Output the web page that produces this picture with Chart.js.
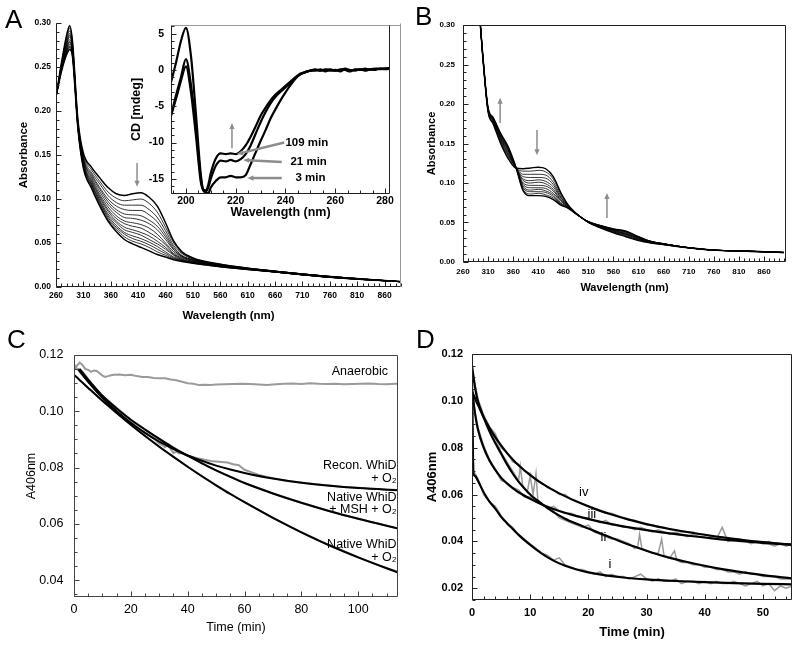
<!DOCTYPE html>
<html>
<head>
<meta charset="utf-8">
<script src="https://cdn.jsdelivr.net/npm/chart.js@4.4.0/dist/chart.umd.min.js"></script>
<style>
  body { margin: 0; background: #fff; }
  #fig { position: relative; width: 800px; height: 646px; overflow: hidden; }
  #fig canvas { position: absolute; left: 0; top: 0; }
  .letter { position: absolute; font: 26px "Liberation Sans", Arial, sans-serif; line-height: 1; color: #000; z-index: 5; }
</style>
</head>
<body>
<div id="fig">
  <canvas id="chartA" width="800" height="646"></canvas>
  <canvas id="chartInset" width="800" height="646"></canvas>
  <canvas id="chartB" width="800" height="646"></canvas>
  <canvas id="chartC" width="800" height="646"></canvas>
  <canvas id="chartD" width="800" height="646"></canvas>
  <div class="letter" style="left:5px;top:6px">A</div>
  <div class="letter" style="left:415px;top:3px">B</div>
  <div class="letter" style="left:7px;top:326px">C</div>
  <div class="letter" style="left:416px;top:326px">D</div>
</div>
<script>
// --- DATA: panel A, UV-vis spectra (first = start, last = end) ---
const wlA = [260, 270, 280, 285, 290, 300, 310, 325, 340, 355, 370, 385, 400, 415, 430, 445, 460, 475, 490, 510, 560, 660, 760, 890];
const spectraA = [
  [0.216, 0.255, 0.288, 0.297, 0.280, 0.190, 0.152, 0.136, 0.124, 0.113, 0.106, 0.104, 0.106, 0.107, 0.102, 0.092, 0.073, 0.052, 0.040, 0.033, 0.026, 0.018, 0.012, 0.006],
  [0.216, 0.254, 0.285, 0.294, 0.278, 0.189, 0.150, 0.133, 0.120, 0.108, 0.101, 0.098, 0.099, 0.100, 0.095, 0.085, 0.068, 0.050, 0.039, 0.032, 0.026, 0.018, 0.012, 0.006],
  [0.216, 0.253, 0.283, 0.291, 0.276, 0.188, 0.148, 0.130, 0.117, 0.104, 0.096, 0.093, 0.093, 0.093, 0.088, 0.079, 0.064, 0.047, 0.038, 0.032, 0.025, 0.018, 0.012, 0.006],
  [0.216, 0.252, 0.280, 0.288, 0.274, 0.187, 0.146, 0.128, 0.113, 0.100, 0.092, 0.088, 0.087, 0.087, 0.082, 0.074, 0.060, 0.045, 0.036, 0.031, 0.025, 0.018, 0.012, 0.006],
  [0.216, 0.251, 0.278, 0.286, 0.272, 0.186, 0.145, 0.126, 0.111, 0.097, 0.088, 0.083, 0.082, 0.081, 0.076, 0.069, 0.057, 0.043, 0.035, 0.031, 0.025, 0.018, 0.012, 0.006],
  [0.216, 0.250, 0.277, 0.284, 0.271, 0.185, 0.144, 0.124, 0.108, 0.094, 0.085, 0.079, 0.078, 0.076, 0.072, 0.065, 0.054, 0.042, 0.035, 0.030, 0.025, 0.018, 0.012, 0.006],
  [0.216, 0.249, 0.275, 0.281, 0.270, 0.184, 0.142, 0.122, 0.105, 0.091, 0.081, 0.075, 0.073, 0.071, 0.067, 0.060, 0.050, 0.040, 0.034, 0.030, 0.024, 0.017, 0.011, 0.006],
  [0.216, 0.249, 0.273, 0.279, 0.268, 0.184, 0.141, 0.120, 0.103, 0.088, 0.078, 0.072, 0.069, 0.067, 0.062, 0.056, 0.048, 0.038, 0.033, 0.029, 0.024, 0.017, 0.011, 0.006],
  [0.216, 0.248, 0.271, 0.278, 0.267, 0.183, 0.140, 0.119, 0.101, 0.086, 0.075, 0.068, 0.065, 0.062, 0.058, 0.052, 0.045, 0.037, 0.032, 0.029, 0.024, 0.017, 0.011, 0.006],
  [0.216, 0.247, 0.270, 0.276, 0.266, 0.182, 0.139, 0.117, 0.099, 0.083, 0.073, 0.065, 0.062, 0.059, 0.054, 0.049, 0.043, 0.036, 0.031, 0.028, 0.024, 0.017, 0.011, 0.006],
  [0.216, 0.247, 0.269, 0.274, 0.265, 0.182, 0.138, 0.116, 0.097, 0.081, 0.070, 0.062, 0.058, 0.055, 0.051, 0.046, 0.040, 0.034, 0.031, 0.028, 0.024, 0.017, 0.011, 0.006],
  [0.216, 0.246, 0.268, 0.273, 0.264, 0.181, 0.137, 0.115, 0.096, 0.079, 0.068, 0.060, 0.055, 0.052, 0.048, 0.043, 0.038, 0.033, 0.030, 0.028, 0.023, 0.017, 0.011, 0.006],
  [0.216, 0.246, 0.266, 0.272, 0.263, 0.181, 0.136, 0.113, 0.094, 0.077, 0.066, 0.057, 0.052, 0.049, 0.045, 0.040, 0.036, 0.032, 0.030, 0.027, 0.023, 0.017, 0.011, 0.006],
  [0.216, 0.245, 0.265, 0.270, 0.262, 0.180, 0.135, 0.112, 0.092, 0.075, 0.063, 0.054, 0.049, 0.045, 0.041, 0.037, 0.034, 0.031, 0.029, 0.027, 0.023, 0.017, 0.011, 0.006]
];
const wlTicks = [260, 310, 360, 410, 460, 510, 560, 610, 660, 710, 760, 810, 860];
const absTicks = [0, 0.05, 0.10, 0.15, 0.20, 0.25, 0.30];

// --- DATA: panel A inset, CD spectra ---
const wlCD = [194, 196, 198, 200, 202, 204, 206, 207, 208, 209, 210, 212, 214, 216, 218, 220, 222, 224, 226, 228, 230, 232, 234, 236, 238, 240, 242, 244, 246, 248, 250, 252, 254, 256, 258, 260, 262, 264, 266, 268, 270, 272, 274, 276, 278, 280, 282];
const cd109 = [-1.7, 1.0, 4.0, 5.8, 2.0, -6.0, -14.5, -16.5, -16.6, -15.8, -14.2, -12.2, -11.5, -11.6, -11.5, -11.6, -11.2, -10.4, -9.2, -7.8, -6.3, -5.2, -4.2, -3.4, -2.8, -2.2, -1.6, -1.0, -0.5, -0.3, -0.1, -0.1, 0.1, -0.2, 0.0, -0.1, 0.1, 0.0, -0.2, 0.1, 0.0, 0.2, 0.0, 0.1, 0.2, 0.2, 0.3];
const cd21 = [-6.3, -3.5, -1.0, 1.5, -2.0, -8.0, -15.0, -16.6, -16.8, -16.2, -15.0, -13.2, -12.5, -12.6, -12.4, -12.6, -12.3, -11.6, -10.4, -8.8, -7.2, -5.8, -4.6, -3.7, -3.0, -2.4, -1.8, -1.1, -0.6, -0.3, -0.1, 0.0, -0.1, 0.1, -0.1, 0.0, -0.2, 0.1, 0.0, -0.1, 0.1, 0.0, 0.1, 0.0, 0.2, 0.1, 0.2];
const cd3 = [-6.3, -4.0, -1.5, 0.5, -3.0, -9.0, -15.5, -16.6, -16.9, -17.0, -16.2, -15.3, -14.8, -14.8, -14.6, -14.8, -14.8, -14.5, -13.0, -11.4, -9.8, -8.3, -6.7, -5.4, -4.2, -3.1, -2.1, -1.2, -0.6, -0.3, -0.1, 0.1, -0.1, 0.0, 0.1, -0.1, 0.0, 0.2, -0.1, 0.0, 0.1, -0.1, 0.1, 0.2, 0.1, 0.2, 0.2];
const cdXTicks = [200, 220, 240, 260, 280];
const cdYTicks = [-15, -10, -5, 0, 5];

// --- DATA: panel B spectra ---
const wlB = [294, 300, 310, 320, 335, 350, 365, 380, 395, 410, 425, 440, 455, 470, 485, 510, 535, 560, 585, 610, 635, 660, 710, 760, 810, 860, 900];
const spectraB = [
  [0.305, 0.255, 0.190, 0.175, 0.150, 0.131, 0.119, 0.118, 0.119, 0.120, 0.118, 0.108, 0.088, 0.072, 0.062, 0.050, 0.043, 0.037, 0.032, 0.027, 0.024, 0.022, 0.018, 0.015, 0.014, 0.013, 0.012],
  [0.305, 0.255, 0.191, 0.176, 0.152, 0.133, 0.119, 0.115, 0.115, 0.116, 0.114, 0.105, 0.086, 0.072, 0.062, 0.050, 0.043, 0.038, 0.033, 0.028, 0.024, 0.022, 0.018, 0.015, 0.014, 0.013, 0.012],
  [0.305, 0.256, 0.191, 0.177, 0.153, 0.135, 0.120, 0.111, 0.111, 0.111, 0.110, 0.101, 0.084, 0.071, 0.062, 0.050, 0.044, 0.038, 0.034, 0.028, 0.025, 0.022, 0.018, 0.015, 0.014, 0.013, 0.012],
  [0.305, 0.256, 0.192, 0.178, 0.155, 0.136, 0.120, 0.108, 0.107, 0.107, 0.106, 0.098, 0.082, 0.071, 0.062, 0.050, 0.044, 0.039, 0.035, 0.029, 0.025, 0.022, 0.018, 0.015, 0.014, 0.013, 0.012],
  [0.305, 0.256, 0.192, 0.179, 0.156, 0.138, 0.120, 0.105, 0.103, 0.104, 0.102, 0.095, 0.081, 0.070, 0.062, 0.051, 0.044, 0.039, 0.035, 0.029, 0.025, 0.023, 0.018, 0.015, 0.014, 0.013, 0.012],
  [0.305, 0.257, 0.193, 0.179, 0.157, 0.139, 0.120, 0.103, 0.100, 0.101, 0.099, 0.092, 0.079, 0.070, 0.061, 0.051, 0.045, 0.040, 0.036, 0.030, 0.025, 0.023, 0.018, 0.015, 0.014, 0.013, 0.012],
  [0.305, 0.257, 0.193, 0.180, 0.158, 0.141, 0.120, 0.100, 0.097, 0.097, 0.096, 0.090, 0.078, 0.070, 0.061, 0.051, 0.045, 0.040, 0.036, 0.030, 0.025, 0.023, 0.018, 0.015, 0.014, 0.013, 0.012],
  [0.305, 0.257, 0.194, 0.181, 0.159, 0.142, 0.120, 0.098, 0.094, 0.094, 0.093, 0.087, 0.077, 0.069, 0.061, 0.051, 0.045, 0.041, 0.037, 0.031, 0.025, 0.023, 0.018, 0.015, 0.014, 0.013, 0.012],
  [0.305, 0.257, 0.194, 0.181, 0.160, 0.143, 0.121, 0.096, 0.091, 0.092, 0.090, 0.085, 0.075, 0.069, 0.061, 0.051, 0.045, 0.041, 0.038, 0.031, 0.026, 0.023, 0.018, 0.015, 0.014, 0.013, 0.012],
  [0.305, 0.258, 0.194, 0.182, 0.161, 0.144, 0.121, 0.094, 0.089, 0.089, 0.088, 0.083, 0.074, 0.069, 0.061, 0.051, 0.046, 0.041, 0.038, 0.031, 0.026, 0.023, 0.018, 0.015, 0.014, 0.013, 0.012],
  [0.305, 0.258, 0.195, 0.182, 0.162, 0.145, 0.121, 0.092, 0.086, 0.087, 0.085, 0.081, 0.073, 0.068, 0.061, 0.051, 0.046, 0.042, 0.039, 0.032, 0.026, 0.023, 0.018, 0.015, 0.014, 0.013, 0.012],
  [0.305, 0.258, 0.195, 0.183, 0.163, 0.146, 0.121, 0.090, 0.084, 0.084, 0.083, 0.079, 0.072, 0.068, 0.061, 0.051, 0.046, 0.042, 0.039, 0.032, 0.026, 0.023, 0.018, 0.015, 0.014, 0.013, 0.012]
];

// --- DATA: panel C, A406 vs time ---
const tAnaer = [0, 1, 2, 3, 4, 5, 6, 7, 8, 9, 10, 11, 12, 13, 14, 16, 18, 20, 22, 24, 26, 28, 30, 32, 34, 36, 38, 40, 42, 44, 46, 48, 50, 53, 56, 59, 62, 65, 68, 71, 74, 77, 80, 83, 86, 89, 92, 95, 98, 101, 104, 107, 110, 113, 115];
const anaer = [0.1153, 0.1162, 0.1173, 0.1165, 0.1150, 0.1147, 0.1140, 0.1145, 0.1143, 0.1135, 0.1127, 0.1122, 0.1125, 0.1128, 0.1130, 0.1131, 0.1128, 0.1130, 0.1125, 0.1122, 0.1122, 0.1118, 0.1117, 0.1117, 0.1113, 0.1110, 0.1105, 0.1100, 0.1098, 0.1093, 0.1094, 0.1093, 0.1095, 0.1096, 0.1097, 0.1098, 0.1097, 0.1095, 0.1093, 0.1096, 0.1098, 0.1099, 0.1097, 0.1100, 0.1098, 0.1097, 0.1098, 0.1096, 0.1097, 0.1098, 0.1099, 0.1097, 0.1096, 0.1098, 0.1097];
const tReconRaw = [0, 0.5, 1, 1.5, 2, 3, 5, 8, 11, 14, 17, 20, 23, 26, 28, 30, 31, 32, 33, 34, 35, 36, 37, 38, 40, 43, 46, 49, 52, 54, 56, 58, 60, 65, 70, 75, 80, 85, 90, 95, 100, 105, 110, 115];
const reconRaw = [0.1145, 0.1160, 0.1152, 0.1149, 0.1140, 0.1130, 0.1105, 0.1071, 0.1038, 0.1010, 0.0983, 0.0960, 0.0937, 0.0917, 0.0904, 0.0885, 0.0880, 0.0872, 0.0880, 0.0866, 0.0852, 0.0856, 0.0850, 0.0852, 0.0843, 0.0834, 0.0828, 0.0822, 0.0820, 0.0818, 0.0812, 0.0808, 0.0792, 0.0774, 0.0762, 0.0752, 0.0747, 0.0741, 0.0736, 0.0731, 0.0728, 0.0725, 0.0722, 0.0720];
const tMshRaw = [1, 2, 3, 4, 6, 10, 20, 30, 40, 50, 60, 70, 80, 90, 100, 110, 115];
const mshRaw = [0.1148, 0.1150, 0.1140, 0.1128, 0.1100, 0.1055, 0.0970, 0.0902, 0.0842, 0.0790, 0.0745, 0.0708, 0.0675, 0.0645, 0.0618, 0.0593, 0.0581];
const tNativeRaw = [0, 1, 2, 3, 5, 10, 20, 30, 40, 50, 60, 70, 80, 90, 100, 110, 115];
const nativeRaw = [0.1125, 0.1122, 0.1110, 0.1102, 0.1083, 0.1037, 0.0952, 0.0874, 0.0803, 0.0737, 0.0677, 0.0621, 0.0570, 0.0523, 0.0481, 0.0442, 0.0428];
const tRecon = [1.5, 5, 10, 15, 20, 25, 30, 35, 40, 45, 50, 55, 60, 70, 80, 90, 100, 115];
const reconFit = [0.1149, 0.1105, 0.1048, 0.1000, 0.0959, 0.0923, 0.0892, 0.0866, 0.0843, 0.0824, 0.0807, 0.0793, 0.0781, 0.0761, 0.0746, 0.0735, 0.0727, 0.0719];
const tMsh = [2, 5, 10, 15, 20, 25, 30, 35, 40, 45, 50, 55, 60, 70, 80, 90, 100, 115];
const mshFit = [0.1150, 0.1112, 0.1055, 0.1010, 0.0970, 0.0935, 0.0902, 0.0870, 0.0842, 0.0815, 0.0790, 0.0767, 0.0745, 0.0708, 0.0675, 0.0645, 0.0618, 0.0581];
const tNative = [0, 5, 10, 15, 20, 25, 30, 35, 40, 45, 50, 55, 60, 70, 80, 90, 100, 115];
const nativeFit = [0.1130, 0.1083, 0.1037, 0.0994, 0.0952, 0.0912, 0.0874, 0.0838, 0.0803, 0.0769, 0.0737, 0.0706, 0.0677, 0.0621, 0.0570, 0.0523, 0.0481, 0.0423];
const timeTicksC = [0, 20, 40, 60, 80, 100];
const absTicksC = [0.04, 0.06, 0.08, 0.10, 0.12];

// --- DATA: panel D, traces i-iv with fits ---
const tRaw = [0, 0.25, 0.5, 1, 2, 3, 4, 5, 6, 7, 8, 9, 10, 11, 12, 13, 14, 15, 16, 17, 18, 19, 20, 21, 22, 23, 24, 25, 26, 27, 28, 29, 30, 31, 32, 33, 34, 35, 36, 37, 38, 39, 40, 41, 42, 43, 44, 45, 46, 47, 48, 49, 50, 51, 52, 53, 54, 55];
const rawI = [0.110, 0.070, 0.069, 0.067, 0.060, 0.057, 0.055, 0.051, 0.048, 0.046, 0.043, 0.041, 0.039, 0.037, 0.035, 0.034, 0.032, 0.033, 0.030, 0.029, 0.028, 0.028, 0.027, 0.026, 0.027, 0.025, 0.026, 0.025, 0.025, 0.024, 0.025, 0.026, 0.024, 0.023, 0.024, 0.023, 0.023, 0.024, 0.022, 0.023, 0.023, 0.022, 0.023, 0.022, 0.023, 0.022, 0.022, 0.023, 0.022, 0.021, 0.022, 0.023, 0.021, 0.022, 0.019, 0.021, 0.020, 0.021];
const rawIII = [0.104, 0.099, 0.095, 0.089, 0.081, 0.075, 0.071, 0.066, 0.065, 0.063, 0.062, 0.059, 0.059, 0.057, 0.056, 0.054, 0.055, 0.053, 0.052, 0.052, 0.051, 0.050, 0.050, 0.049, 0.048, 0.049, 0.047, 0.047, 0.046, 0.046, 0.045, 0.046, 0.045, 0.044, 0.045, 0.044, 0.043, 0.044, 0.043, 0.042, 0.043, 0.042, 0.042, 0.041, 0.041, 0.046, 0.040, 0.041, 0.040, 0.040, 0.039, 0.040, 0.039, 0.039, 0.038, 0.039, 0.038, 0.039];
const rawIV = [0.103, 0.101, 0.100, 0.098, 0.094, 0.089, 0.086, 0.080, 0.078, 0.074, 0.073, 0.070, 0.069, 0.066, 0.065, 0.063, 0.062, 0.060, 0.060, 0.058, 0.057, 0.056, 0.055, 0.054, 0.053, 0.052, 0.052, 0.051, 0.050, 0.049, 0.049, 0.048, 0.047, 0.047, 0.046, 0.046, 0.045, 0.045, 0.044, 0.044, 0.044, 0.043, 0.043, 0.042, 0.042, 0.042, 0.041, 0.041, 0.041, 0.040, 0.040, 0.040, 0.039, 0.040, 0.039, 0.039, 0.039, 0.038];
const tRawII = [0, 1, 2, 3, 4, 5, 6, 7, 8, 8.3, 8.7, 9, 9.5, 10, 10.5, 11, 11.3, 12, 13, 14, 15, 16, 17, 18, 19, 20, 21, 22, 23, 24, 25, 26, 27, 28, 28.5, 28.8, 29.2, 30, 31, 32, 32.6, 33, 34, 34.8, 35.2, 36, 37, 38, 39, 40, 41, 42, 43, 44, 45, 46, 47, 48, 49, 50, 51, 52, 53, 54, 55];
const rawII = [0.114, 0.101, 0.094, 0.088, 0.084, 0.078, 0.074, 0.070, 0.066, 0.072, 0.064, 0.063, 0.061, 0.068, 0.060, 0.069, 0.058, 0.056, 0.054, 0.053, 0.050, 0.049, 0.048, 0.047, 0.046, 0.047, 0.044, 0.043, 0.042, 0.041, 0.041, 0.040, 0.039, 0.037, 0.038, 0.043, 0.037, 0.036, 0.035, 0.035, 0.041, 0.034, 0.033, 0.036, 0.032, 0.031, 0.031, 0.030, 0.030, 0.029, 0.029, 0.028, 0.028, 0.027, 0.027, 0.026, 0.027, 0.026, 0.026, 0.025, 0.025, 0.025, 0.024, 0.024, 0.024];
const tFitI = [0, 0.25, 0.5, 1, 2, 3, 4, 5, 6, 7, 8, 10, 12, 14, 16, 18, 20, 23, 26, 30, 35, 40, 45, 50, 55];
const fitI = [0.107, 0.069, 0.068, 0.066, 0.061, 0.057, 0.054, 0.0505, 0.0478, 0.0453, 0.0428, 0.0385, 0.0348, 0.0318, 0.0296, 0.0280, 0.0268, 0.0255, 0.0246, 0.0238, 0.0231, 0.0226, 0.0222, 0.0219, 0.0217];
const tFitII = [0, 0.5, 1, 2, 3, 4, 5, 6, 7, 8, 10, 12, 14, 16, 18, 20, 22, 25, 28, 31, 34, 37, 40, 43, 46, 50, 55];
const fitII = [0.115, 0.106, 0.100, 0.093, 0.087, 0.082, 0.0775, 0.073, 0.069, 0.0655, 0.060, 0.0560, 0.0525, 0.0497, 0.0475, 0.0455, 0.0435, 0.0405, 0.0377, 0.0352, 0.0330, 0.0312, 0.0296, 0.0282, 0.0270, 0.0256, 0.0242];
const tFitIII = [0, 0.5, 1, 2, 3, 4, 5, 6, 7, 8, 10, 12, 15, 18, 21, 24, 27, 30, 34, 38, 42, 46, 50, 55];
const fitIII = [0.105, 0.095, 0.088, 0.080, 0.0745, 0.0705, 0.0672, 0.0648, 0.0628, 0.0610, 0.0582, 0.0558, 0.0530, 0.0508, 0.0490, 0.0474, 0.0460, 0.0448, 0.0434, 0.0422, 0.0411, 0.0402, 0.0394, 0.0386];
const tFitIV = [0, 1, 2, 3, 4, 5, 6, 7, 8, 10, 12, 15, 18, 21, 24, 27, 30, 34, 38, 42, 46, 50, 55];
const fitIV = [0.104, 0.0985, 0.093, 0.0885, 0.0845, 0.081, 0.0778, 0.075, 0.0725, 0.0683, 0.0648, 0.0605, 0.0570, 0.0540, 0.0515, 0.0493, 0.0474, 0.0453, 0.0436, 0.0421, 0.0408, 0.0397, 0.0386];
const timeTicksD = [0, 10, 20, 30, 40, 50];
const absTicksD = [0.02, 0.04, 0.06, 0.08, 0.10, 0.12];

// --- annotations (data coordinates) ---
const notesA = { arrows: [{ from: [408, 0.141], to: [408, 0.114] }] };
const notesInset = {
  arrows: [
    { from: [239.5, -10.0], to: [220.5, -11.6], width: 2.5 },
    { from: [238.5, -12.7], to: [223, -12.4], width: 2.5 },
    { from: [238.5, -14.9], to: [224.7, -14.9], width: 2.5 },
    { from: [218.5, -10.8], to: [218.5, -7.3] }
  ],
  texts: [
    { text: '109 min', x: 240, y: -10.0, align: 'left', font: 'bold 11.5px "Liberation Sans", Arial, sans-serif' },
    { text: '21 min', x: 242, y: -12.7, align: 'left', font: 'bold 11.5px "Liberation Sans", Arial, sans-serif' },
    { text: '3 min', x: 244, y: -14.9, align: 'left', font: 'bold 11.5px "Liberation Sans", Arial, sans-serif' }
  ]
};
const notesB = {
  arrows: [
    { from: [334, 0.176], to: [334, 0.208] },
    { from: [407.5, 0.167], to: [407.5, 0.135] },
    { from: [547, 0.0557], to: [547, 0.0873] }
  ]
};
const labelFontC = '12.5px "Liberation Sans", Arial, sans-serif';
const notesC = {
  texts: [
    { text: 'Anaerobic', x: 110.5, y: 0.1140, align: 'right', font: labelFontC },
    { text: 'Recon. WhiD', x: 113.5, y: 0.0806, align: 'right', font: labelFontC },
    { text: '+ O₂', x: 113.5, y: 0.0760, align: 'right', font: labelFontC },
    { text: 'Native WhiD', x: 113.5, y: 0.0692, align: 'right', font: labelFontC },
    { text: '+ MSH + O₂', x: 113.5, y: 0.0650, align: 'right', font: labelFontC },
    { text: 'Native WhiD', x: 113.5, y: 0.0525, align: 'right', font: labelFontC },
    { text: '+ O₂', x: 113.5, y: 0.0480, align: 'right', font: labelFontC }
  ]
};
const labelFontD = '13px "Liberation Sans", Arial, sans-serif';
const notesD = {
  texts: [
    { text: 'iv', x: 19.2, y: 0.0608, font: labelFontD },
    { text: 'iii', x: 20.6, y: 0.0515, font: labelFontD },
    { text: 'ii', x: 22.6, y: 0.0416, font: labelFontD },
    { text: 'i', x: 23.7, y: 0.0302, font: labelFontD }
  ]
};

const FAMILY = '"Liberation Sans", Arial, sans-serif';
const GRAY = '#9a9a9a';

// frame sides and inward tick marks (major at axis ticks, minor by step)
const frameTicks = {
  id: 'frameTicks',
  afterDatasetsDraw(chart, args, o) {
    const { ctx, chartArea: a } = chart;
    const sx = chart.scales.x, sy = chart.scales.y;
    const L = Math.round(a.left) + 0.5, R = Math.round(a.right) - 0.5;
    const T = Math.round(a.top) + 0.5, B = Math.round(a.bottom) - 0.5;
    ctx.save();
    ctx.lineWidth = 1;
    const side = (c, x1, y1, x2, y2) => {
      if (!c) return;
      ctx.strokeStyle = c;
      ctx.beginPath(); ctx.moveTo(x1, y1); ctx.lineTo(x2, y2); ctx.stroke();
    };
    side(o.top, L, T, R + (o.topExtra || 0), T);
    side(o.right, R, T, R, B);
    side(o.left, L, T, L, B);
    side(o.bottom, L, B, R, B);

    ctx.strokeStyle = o.left || '#000';
    const mark = (scale, v, len) => {
      const p = Math.round(scale.getPixelForValue(v)) + 0.5;
      ctx.beginPath();
      if (scale.isHorizontal()) { ctx.moveTo(p, B); ctx.lineTo(p, B - len); }
      else { ctx.moveTo(L, p); ctx.lineTo(L + len, p); }
      ctx.stroke();
    };
    [[sx, o.xMinor], [sy, o.yMinor]].forEach(([s, step]) => {
      const n0 = Math.ceil(s.min / step - 1e-6), n1 = Math.floor(s.max / step + 1e-6);
      for (let n = n0; n <= n1; n++) mark(s, n * step, 3);
      s.ticks.forEach(t => mark(s, t.value, 5));
    });
    ctx.restore();
  }
};

// gray arrows and free text labels
const notes = {
  id: 'notes',
  afterDatasetsDraw(chart, args, o) {
    const { ctx } = chart, sx = chart.scales.x, sy = chart.scales.y;
    ctx.save();
    (o.arrows || []).forEach(ar => {
      const x1 = sx.getPixelForValue(ar.from[0]), y1 = sy.getPixelForValue(ar.from[1]);
      const x2 = sx.getPixelForValue(ar.to[0]), y2 = sy.getPixelForValue(ar.to[1]);
      const ang = Math.atan2(y2 - y1, x2 - x1), h = 6, hw = 2.6;
      const c = Math.cos(ang), s = Math.sin(ang);
      ctx.strokeStyle = ctx.fillStyle = '#8c8c8c';
      ctx.lineWidth = ar.width || 1.5;
      ctx.beginPath(); ctx.moveTo(x1, y1); ctx.lineTo(x2 - c * h * 0.7, y2 - s * h * 0.7); ctx.stroke();
      ctx.beginPath();
      ctx.moveTo(x2, y2);
      ctx.lineTo(x2 - c * h - s * hw, y2 - s * h + c * hw);
      ctx.lineTo(x2 - c * h + s * hw, y2 - s * h - c * hw);
      ctx.closePath(); ctx.fill();
    });
    (o.texts || []).forEach(t => {
      ctx.font = t.font;
      ctx.fillStyle = '#000';
      ctx.textAlign = t.align || 'center';
      ctx.textBaseline = 'middle';
      ctx.fillText(t.text, sx.getPixelForValue(t.x), sy.getPixelForValue(t.y));
    });
    ctx.restore();
  }
};

function line(xs, ys, color, width, smooth) {
  return {
    data: xs.map((x, i) => ({ x: x, y: ys[i] })),
    borderColor: color,
    borderWidth: width,
    pointRadius: 0,
    fill: false,
    tension: 0,
    cubicInterpolationMode: smooth ? 'monotone' : 'default'
  };
}

function panel(id, p) {
  const axis = (a, isX) => ({
    type: 'linear',
    min: a.min,
    max: a.max,
    grid: { display: false, drawTicks: false },
    border: { display: false },
    afterBuildTicks: s => { s.ticks = a.ticks.map(v => ({ value: v })); },
    afterFit: s => { if (isX) s.height = a.size; else s.width = a.size; },
    ticks: {
      color: '#000', font: p.tickFont, padding: a.tpad,
      maxRotation: 0, autoSkip: false,
      callback: a.fmt || (v => v)
    },
    title: {
      display: true, text: a.title, color: '#000', font: p.titleFont,
      padding: isX ? { top: 0, bottom: a.titlePad } : { top: a.titlePad, bottom: 0 }
    }
  });
  return new Chart(document.getElementById(id), {
    type: 'line',
    data: { datasets: p.datasets },
    options: {
      responsive: false,
      animation: false,
      devicePixelRatio: 1,
      events: [],
      layout: { padding: p.pad },
      plugins: {
        legend: { display: false },
        tooltip: { enabled: false },
        frameTicks: p.frame,
        notes: p.notes || {}
      },
      scales: { x: axis(p.x, true), y: axis(p.y, false) }
    },
    plugins: [frameTicks, notes]
  });
}

const fix2 = v => v.toFixed(2);

// Panel A
panel('chartA', {
  datasets: spectraA.map((s, i) => line(wlA, s, '#000', (i === 0 || i === spectraA.length - 1) ? 1.5 : 0.8, true)),
  pad: { left: 0, top: 23, right: 399, bottom: 319 },
  tickFont: { family: FAMILY, size: 8.5, weight: 'bold' },
  titleFont: { family: FAMILY, size: 11.5, weight: 'bold' },
  x: { min: 260, max: 890, ticks: wlTicks, size: 40, tpad: 4, title: 'Wavelength (nm)', titlePad: 4.4 },
  y: { min: 0, max: 0.30, ticks: absTicks, size: 56, tpad: 5, title: 'Absorbance', titlePad: 17, fmt: fix2 },
  frame: { left: '#222', bottom: '#222', right: '#999', xMinor: 10, yMinor: 0.01 },
  notes: notesA
});

// Panel A inset
panel('chartInset', {
  datasets: [
    line(wlCD, cd109, '#000', 2.2, true),
    line(wlCD, cd21, '#000', 2.2, true),
    line(wlCD, cd3, '#000', 2.2, true)
  ],
  pad: { left: 120, top: 25, right: 410, bottom: 422 },
  tickFont: { family: FAMILY, size: 10.5, weight: 'bold' },
  titleFont: { family: FAMILY, size: 12.5, weight: 'bold' },
  x: { min: 194, max: 282, ticks: cdXTicks, size: 30, tpad: 1, title: 'Wavelength (nm)', titlePad: 3.5 },
  y: { min: -17.1, max: 6.2, ticks: cdYTicks, size: 51, tpad: 7, title: 'CD [mdeg]', titlePad: 8.8 },
  frame: { left: '#222', bottom: '#222', right: '#222', top: '#999', topExtra: 11, xMinor: 5, yMinor: 1 },
  notes: notesInset
});

// Panel B
panel('chartB', {
  datasets: spectraB.map((s, i) => line(wlB, s, '#000', (i === 0 || i === spectraB.length - 1) ? 1.4 : 0.8, true)),
  pad: { left: 420, top: 25, right: 14, bottom: 348 },
  tickFont: { family: FAMILY, size: 8, weight: 'bold' },
  titleFont: { family: FAMILY, size: 11, weight: 'bold' },
  x: { min: 260, max: 904, ticks: wlTicks, size: 36, tpad: 5, title: 'Wavelength (nm)', titlePad: 3.4 },
  y: { min: 0, max: 0.30, ticks: absTicks, size: 43, tpad: 8, title: 'Absorbance', titlePad: 5.4, fmt: fix2 },
  frame: { left: '#222', bottom: '#222', right: '#222', top: '#222', xMinor: 10, yMinor: 0.01 },
  notes: notesB
});

// Panel C
panel('chartC', {
  datasets: [
    line(tRecon, reconFit, '#000', 2, true),
    line(tMsh, mshFit, '#000', 2, true),
    line(tNative, nativeFit, '#000', 2, true),
    line(tAnaer, anaer, GRAY, 2, false),
    line(tReconRaw, reconRaw, GRAY, 2, false),
    line(tMshRaw, mshRaw, GRAY, 2, false),
    line(tNativeRaw, nativeRaw, GRAY, 2, false)
  ],
  pad: { left: 18, top: 355, right: 402, bottom: 7 },
  tickFont: { family: FAMILY, size: 12.5 },
  titleFont: { family: FAMILY, size: 12.5 },
  x: { min: 0, max: 114, ticks: timeTicksC, size: 42, tpad: 5.5, title: 'Time (min)', titlePad: 3.5 },
  y: { min: 0.034, max: 0.12, ticks: absTicksC, size: 56, tpad: 10.5, title: 'A406nm', titlePad: 6.5, fmt: fix2 },
  frame: { left: '#444', bottom: '#444', right: '#444', top: '#444', xMinor: 5, yMinor: 0.005 },
  notes: notesC
});

// Panel D
panel('chartD', {
  datasets: [
    line(tFitI, fitI, '#000', 2.2, true),
    line(tFitII, fitII, '#000', 2.2, true),
    line(tFitIII, fitIII, '#000', 2.2, true),
    line(tFitIV, fitIV, '#000', 2.2, true),
    line(tRaw, rawI, GRAY, 1.5, false),
    line(tRawII, rawII, GRAY, 1.5, false),
    line(tRaw, rawIII, GRAY, 1.5, false),
    line(tRaw, rawIV, GRAY, 1.5, false)
  ],
  pad: { left: 420, top: 354, right: 8, bottom: 4 },
  tickFont: { family: FAMILY, size: 11, weight: 'bold' },
  titleFont: { family: FAMILY, size: 13, weight: 'bold' },
  x: { min: 0, max: 55, ticks: timeTicksD, size: 42, tpad: 6.4, title: 'Time (min)', titlePad: 2.2 },
  y: { min: 0.015, max: 0.12, ticks: absTicksD, size: 52, tpad: 9, title: 'A406nm', titlePad: 4.2, fmt: fix2 },
  frame: { left: '#222', bottom: '#222', right: '#222', top: '#222', xMinor: 2, yMinor: 0.005 },
  notes: notesD
});
</script>
</body>
</html>
